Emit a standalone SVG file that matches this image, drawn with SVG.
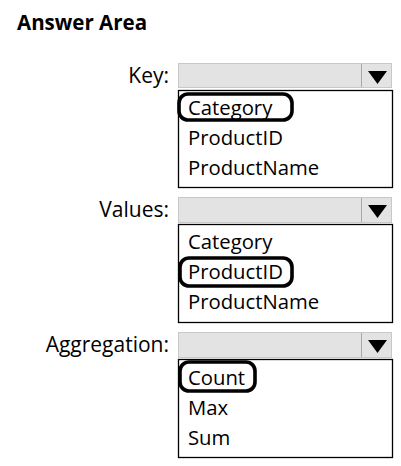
<svg xmlns="http://www.w3.org/2000/svg" width="401" height="466" viewBox="0 0 401 466">
<style>
text{font-family:"Open Sans","Noto Sans","Liberation Sans",sans-serif;fill:#000}
.title{font-size:20.5px;font-weight:bold}
.lbl{font-size:21px;text-anchor:end}
.item{font-size:20.3px}
.combo{fill:#e3e3e3;stroke:#c8c8c8;stroke-width:1}
.div{stroke:#a8a8a8;stroke-width:1}
.list{fill:#fff;stroke:#000;stroke-width:1.3}
.hl{fill:none;stroke:#000;stroke-width:3.6}
.tri{fill:#000}
</style>
<rect width="401" height="466" fill="#fff"/>
<text class="title" x="17" y="30">Answer Area</text>

<g id="key">
<text class="lbl" x="169" y="83">Key:</text>
<rect class="combo" x="178.5" y="63.5" width="213" height="24"/>
<line class="div" x1="361.5" y1="64" x2="361.5" y2="87"/>
<path class="tri" d="M368 71 L387 71 L377.5 84 Z"/>
<rect class="list" x="178.5" y="90.5" width="214" height="97"/>
<text class="item" x="188" y="115">Category</text>
<text class="item" x="188" y="145">ProductID</text>
<text class="item" x="188" y="175">ProductName</text>
<rect class="hl" x="179" y="94" width="113" height="26" rx="9"/>
</g>

<g id="values">
<text class="lbl" x="169" y="217">Values:</text>
<rect class="combo" x="178.5" y="197.5" width="213" height="25"/>
<line class="div" x1="361.5" y1="198" x2="361.5" y2="222"/>
<path class="tri" d="M368 205 L387 205 L377.5 218 Z"/>
<rect class="list" x="178.5" y="224.5" width="214" height="98"/>
<text class="item" x="188" y="249">Category</text>
<text class="item" x="188" y="279">ProductID</text>
<text class="item" x="188" y="309">ProductName</text>
<rect class="hl" x="180" y="258" width="112" height="28" rx="9"/>
</g>

<g id="aggregation">
<text class="lbl" x="169" y="352">Aggregation:</text>
<rect class="combo" x="178.5" y="332.5" width="213" height="25"/>
<line class="div" x1="361.5" y1="333" x2="361.5" y2="357"/>
<path class="tri" d="M368 340 L387 340 L377.5 353 Z"/>
<rect class="list" x="178.5" y="359.5" width="214" height="98"/>
<text class="item" x="188" y="385">Count</text>
<text class="item" x="188" y="415">Max</text>
<text class="item" x="188" y="445">Sum</text>
<rect class="hl" x="180" y="362" width="75" height="29" rx="9"/>
</g>
<g id="connectors"/>
</svg>
